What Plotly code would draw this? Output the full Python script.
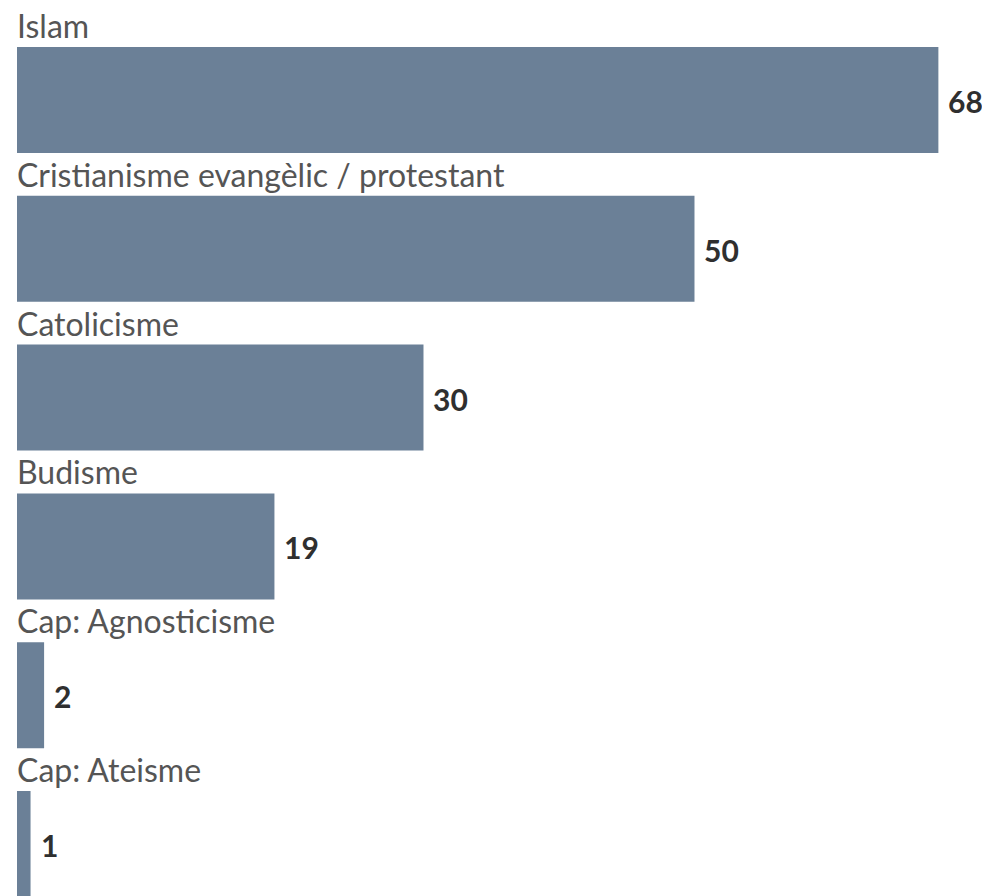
import plotly.graph_objects as go

categories = ["Islam", "Cristianisme evangèlic / protestant", "Catolicisme", "Budisme",
              "Cap: Agnosticisme", "Cap: Ateisme"]
values = [68, 50, 30, 19, 2, 1]

bar_color = "#6b8097"
label_color = "#555555"
value_color = "#2f2f2f"
font_family = "Lato, 'Noto Sans', sans-serif"

pos = list(range(len(categories)))
bw = 0.712

fig = go.Figure()
fig.add_trace(go.Bar(
    x=values, y=pos, orientation="h", width=bw,
    marker=dict(color=bar_color, line=dict(width=0)),
    hoverinfo="skip",
))

ann = []
for i, (c, v) in enumerate(zip(categories, values)):
    ann.append(dict(x=0, y=i - bw / 2, xref="x", yref="y", text=c, showarrow=False,
                    xanchor="left", yanchor="bottom", yshift=0, xshift=-2,
                    font=dict(family=font_family, size=32, color=label_color)))
    ann.append(dict(x=v, y=i, xref="x", yref="y", text="<b>%d</b>" % v, showarrow=False,
                    xanchor="left", yanchor="middle", xshift=8, yshift=-1,
                    font=dict(family=font_family, size=30, color=value_color)))

fig.update_layout(
    width=990, height=896,
    margin=dict(l=9, r=0, t=0, b=0),
    paper_bgcolor="white", plot_bgcolor="white",
    showlegend=False,
    annotations=ann,
    xaxis=dict(range=[0, 72.4], visible=False, fixedrange=True),
    yaxis=dict(range=[5.403, -0.618], visible=False, fixedrange=True),
)

fig.write_html("out.html")
